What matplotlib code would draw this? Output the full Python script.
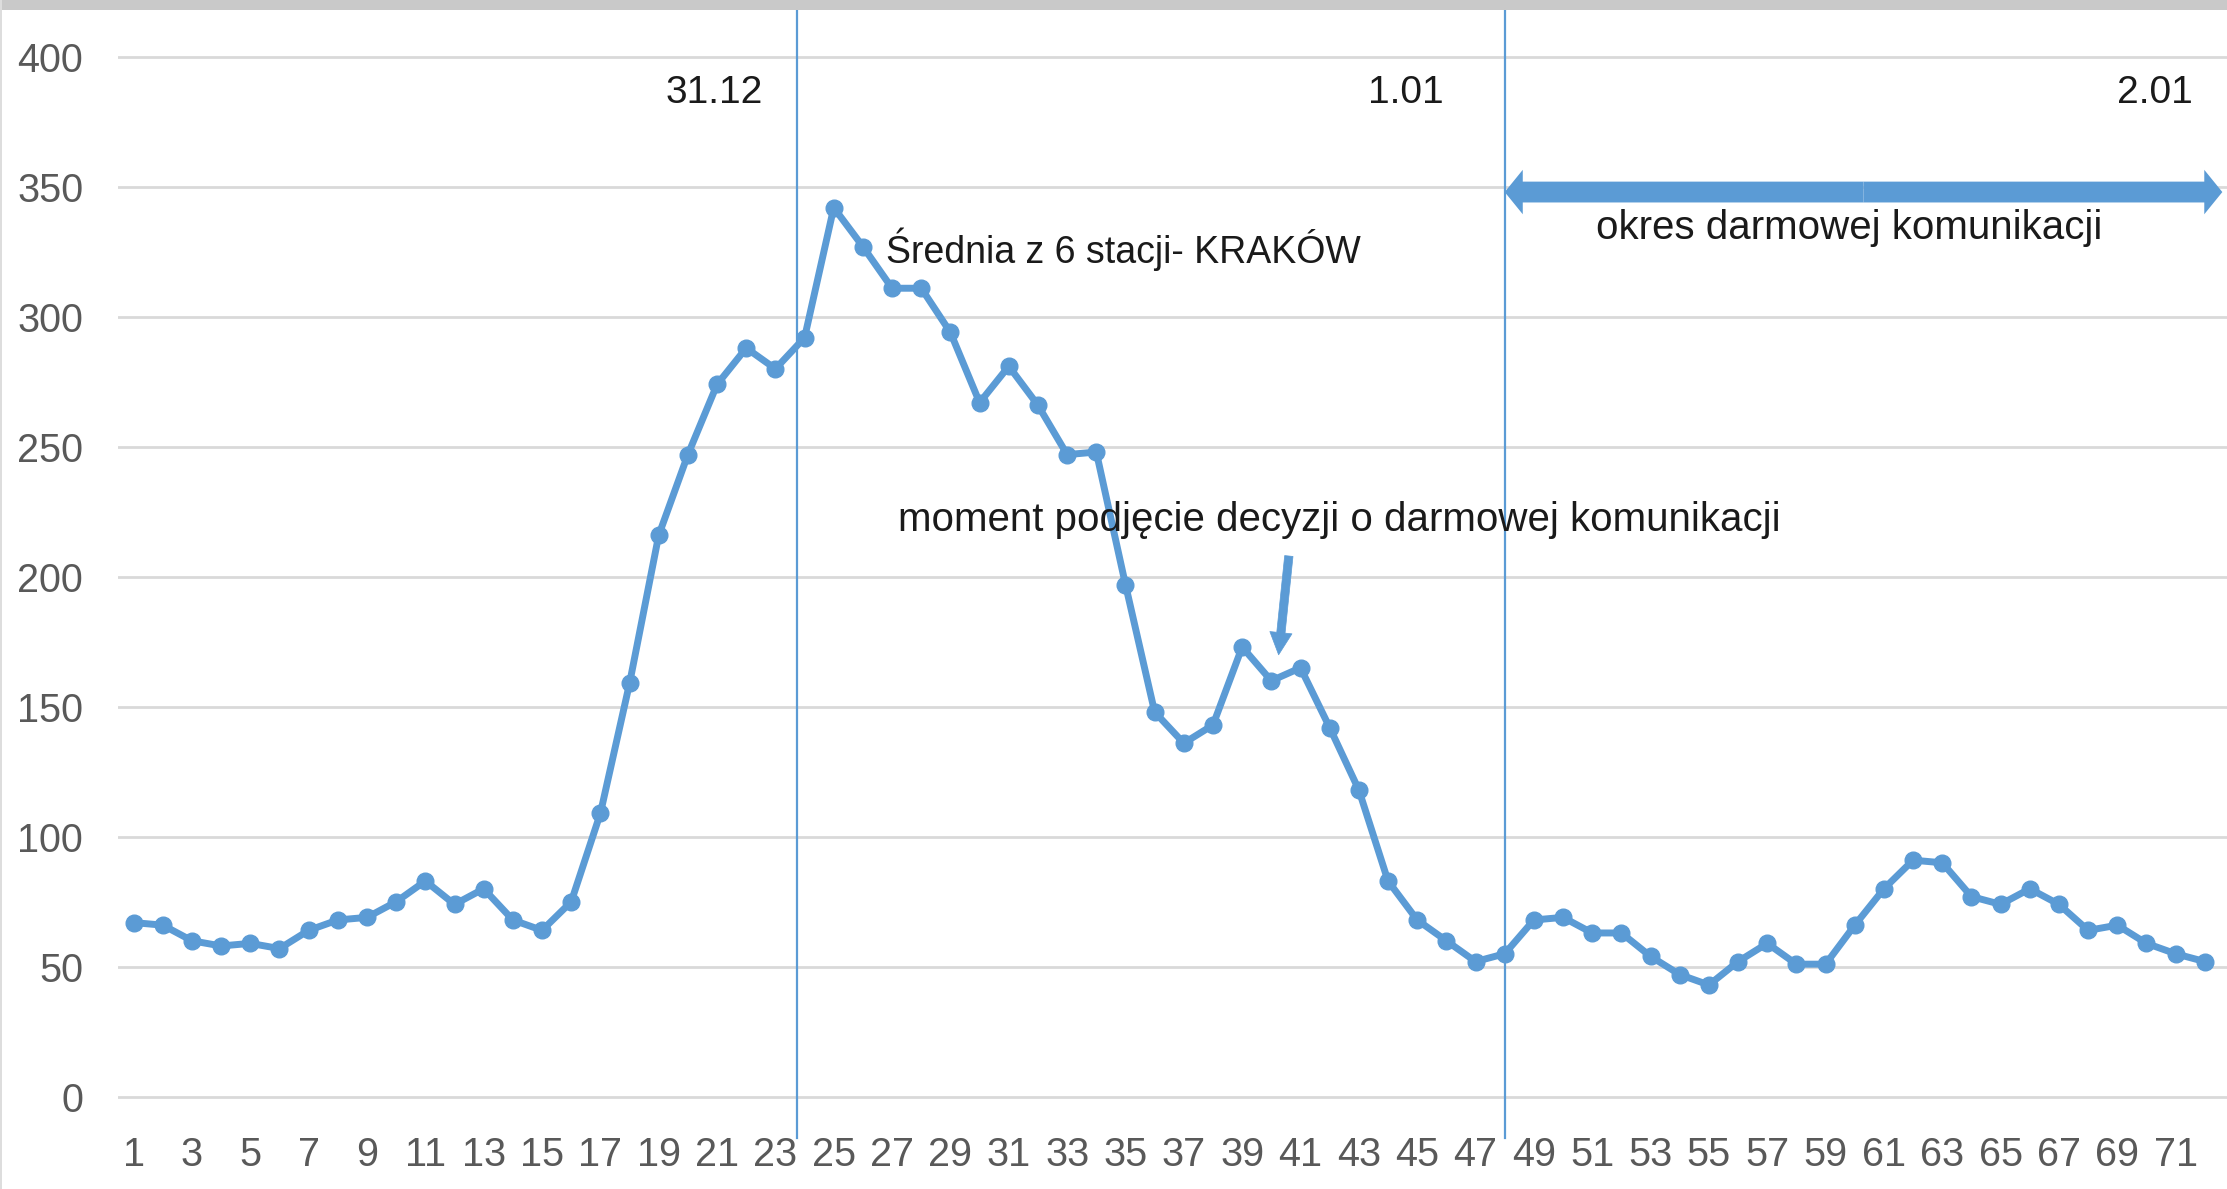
import numpy as np
import matplotlib
matplotlib.use('Agg')
import matplotlib.pyplot as plt
from matplotlib.patches import Rectangle

# ------------------------------------------------------------------------------
# Dane: średnia z 6 stacji (Kraków), kolejne godziny
godziny = np.arange(1, 73)
srednia = [67, 66, 60, 58, 59, 57, 64, 68, 69, 75,
           83, 74, 80, 68, 64, 75, 109, 159, 216, 247,
           274, 288, 280, 292, 342, 327, 311, 311, 294, 267,
           281, 266, 247, 248, 197, 148, 136, 143, 173, 160,
           165, 142, 118, 83, 68, 60, 52, 55, 68, 69,
           63, 63, 54, 47, 43, 52, 59, 51, 51, 66,
           80, 91, 90, 77, 74, 80, 74, 64, 66, 59,
           55, 52]

etykiety_x = list(range(1, 73, 2))
etykiety_y = [0, 50, 100, 150, 200, 250, 300, 350, 400]

# linie pionowe (granice dni) i podpisy dat
granice = [23.75, 48]
daty = ['31.12', '1.01', '2.01']
daty_x = [20.9, 44.6, 70.3]

NIEBIESKI = '#5B9BD5'
SZARY = '#595959'

plt.rcParams['font.family'] = ['Liberation Sans', 'DejaVu Sans']

fig = plt.figure(figsize=(22.27, 11.89), dpi=100)
ax = fig.add_axes([83 / 1568, 47 / 837, 1 - 83 / 1568, (790 - 8) / 837])

ax.plot(godziny, srednia, '-o', color=NIEBIESKI, lw=5, ms=12, zorder=3)

ax.set_xlim(0.46, 72.76)
ax.set_ylim(-9.8, 417.5)
ax.set_xticks(etykiety_x)
ax.set_yticks(etykiety_y)
ax.tick_params(axis='both', length=0, labelsize=28.5, colors=SZARY)
ax.tick_params(axis='x', pad=10)
ax.tick_params(axis='y', pad=25)
ax.grid(axis='y', color='#D9D9D9', lw=2)
ax.set_axisbelow(True)
for s in ax.spines.values():
    s.set_visible(False)

# linie pionowe
for g in granice:
    ax.plot([g, g], [-16, 417.5], color=NIEBIESKI, lw=1.6, clip_on=False, zorder=2)

# daty
for d, dx in zip(daty, daty_x):
    ax.text(dx, 386, d, fontsize=28, color='#1a1a1a', ha='center', va='center')

# podwójna strzałka - okres darmowej komunikacji
srodek = (granice[1] + 72.6) / 2
for koniec in [granice[1], 72.6]:
    ax.annotate('', xy=(koniec, 348), xytext=(srodek, 348),
                arrowprops=dict(arrowstyle='simple,head_length=1.3,head_width=3.2,tail_width=1.5',
                                mutation_scale=10, fc=NIEBIESKI, ec='none', lw=0,
                                shrinkA=0, shrinkB=0),
                annotation_clip=False)
ax.text(59.8, 334, 'okres darmowej komunikacji', fontsize=29, color='#1a1a1a',
        ha='center', va='center')

ax.text(26.8, 326, 'Średnia z 6 stacji- KRAKÓW', fontsize=27, color='#1a1a1a',
        ha='left', va='center')
ax.text(27.2, 222, 'moment podjęcie decyzji o darmowej komunikacji', fontsize=29,
        color='#1a1a1a', ha='left', va='center')

# strzałka na moment decyzji
ax.annotate('', xy=(40.25, 170), xytext=(40.6, 208),
            arrowprops=dict(arrowstyle='simple,head_length=1.6,head_width=1.6,tail_width=0.6',
                            mutation_scale=10, fc=NIEBIESKI, ec=NIEBIESKI, lw=0.5,
                            shrinkA=0, shrinkB=0))

# szary pasek okna u góry
fig.patches.append(Rectangle((0, 1 - 7 / 837), 1, 7 / 837, transform=fig.transFigure,
                             facecolor='#C9C9C9', edgecolor='none'))
fig.patches.append(Rectangle((0, 0), 1.5 / 1568, 1, transform=fig.transFigure,
                             facecolor='#DDDDDD', edgecolor='none'))

fig.savefig('out.png', dpi=100)
